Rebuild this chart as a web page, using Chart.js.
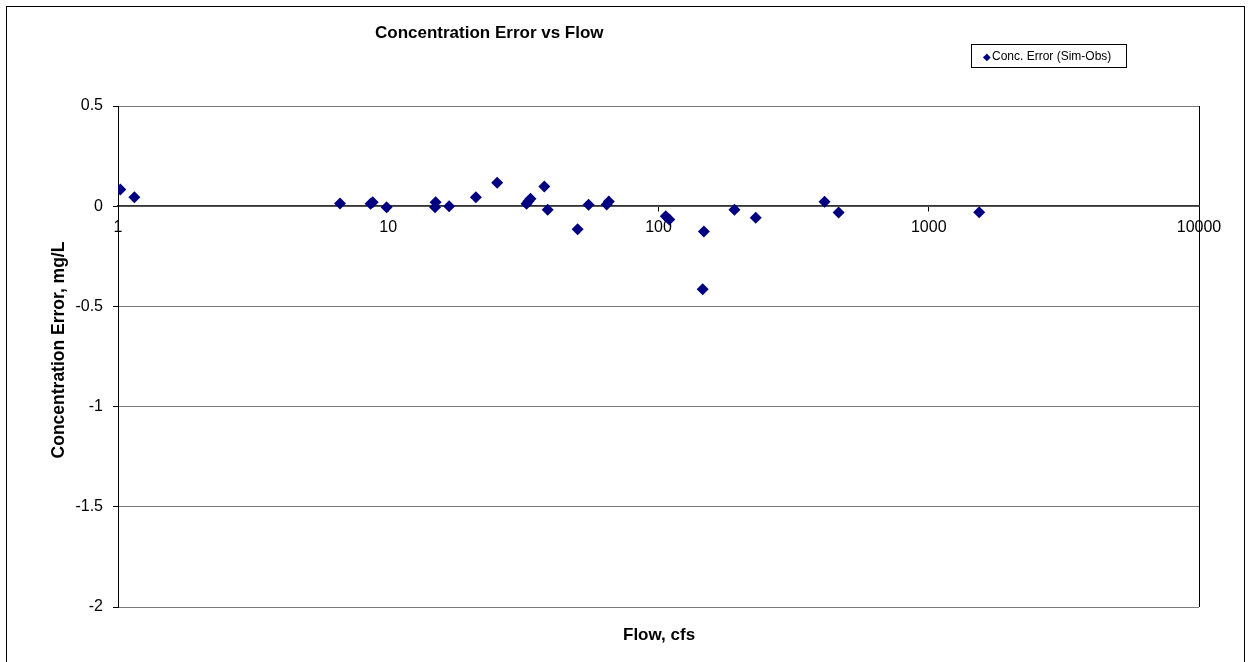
<!DOCTYPE html>
<html>
<head>
<meta charset="utf-8">
<script src="https://cdn.jsdelivr.net/npm/chart.js@4.4.0/dist/chart.umd.min.js"></script>
<style>
  html, body { margin: 0; padding: 0; background: #fff; overflow: hidden; }
  body { width: 1251px; height: 662px; position: relative; font-family: Arial, "Liberation Sans", sans-serif; }
  #frame { position: absolute; left: 6px; top: 6px; width: 1237px; height: 700px; border: 1px solid #000; }
  #wrap { position: absolute; left: 0; top: 0; width: 1251px; height: 662px; }
  .title { position: absolute; font-weight: bold; color: #000; white-space: nowrap; line-height: 20px; }
  #yTitle { width: 300px; text-align: center; transform: rotate(-90deg); transform-origin: 50% 50%; }
  #legend { position: absolute; left: 971px; top: 44px; width: 156px; height: 24px; border: 1px solid #000;
            font-size: 12px; line-height: 22px; box-sizing: border-box; padding-left: 11px; white-space: nowrap; }
  #legend span { color: #000080; font-size: 10px; margin-right: 1px; }
</style>
</head>
<body>
<div id="frame"></div>
<div id="wrap"><canvas id="chart" width="1251" height="662"></canvas></div>
<div class="title" style="left:375px; top:23px; font-size:17px;">Concentration Error vs Flow</div>
<div class="title" style="left:623px; top:625px; font-size:17px;">Flow, cfs</div>
<div class="title" id="yTitle" style="left:-92px; top:340px; font-size:17.5px;">Concentration Error, mg/L</div>
<div id="legend"><span>&#9670;</span>Conc. Error (Sim-Obs)</div>
<script>
// Flow (cfs) and concentration error (mg/L)
const flows = [1.02, 1.15, 6.63, 8.6, 8.76, 9.86, 14.97, 14.9, 16.8, 21.1, 25.3, 32.5, 33.0, 33.6,
               37.8, 38.9, 50.2, 55.1, 64.3, 65.5, 106.4, 109.6, 147.2, 145.7, 191, 229, 411.7, 464, 1537];
const concErrors = [0.083, 0.045, 0.013, 0.012, 0.02, -0.005, 0.02, -0.005, 0.0, 0.045, 0.117, 0.012, 0.025, 0.037,
                    0.098, -0.018, -0.115, 0.007, 0.008, 0.023, -0.05, -0.066, -0.126, -0.414, -0.018, -0.058, 0.022, -0.031, -0.03];
const xTicks = [1, 10, 100, 1000, 10000];
const yTicks = [0.5, 0, -0.5, -1, -1.5, -2];

const points = flows.map((f, i) => ({ x: f, y: concErrors[i] }));
const font = "Arial, 'Liberation Sans', sans-serif";

const ctx = document.getElementById('chart').getContext('2d');
new Chart(ctx, {
    type: 'scatter',
    data: {
        datasets: [{
            label: 'Conc. Error (Sim-Obs)',
            data: points,
            pointStyle: 'rectRot',
            pointRadius: 6,
            backgroundColor: '#000080',
            borderColor: '#000080',
            borderWidth: 0
        }]
    },
    options: {
        responsive: false,
        animation: false,
        layout: { padding: { left: 0, top: 106, right: 52, bottom: 55 } },
        plugins: {
            legend: { display: false },
            tooltip: { enabled: false }
        },
        scales: {
            x: {
                type: 'logarithmic',
                position: { y: 0 },
                min: 1,
                max: 10000,
                afterBuildTicks: s => { s.ticks = xTicks.map(v => ({ value: v })); },
                ticks: {
                    color: '#000',
                    font: { family: font, size: 16 },
                    padding: 7,
                    maxRotation: 0,
                    autoSkip: false,
                    callback: v => String(v)
                },
                grid: {
                    drawOnChartArea: true,
                    color: c => (c.tick && c.tick.value === 10000) ? '#000' : 'rgba(0,0,0,0)',
                    tickColor: '#000',
                    tickLength: 5,
                    lineWidth: 1
                },
                border: { display: true, color: '#333', width: 1.5 }
            },
            y: {
                min: -2,
                max: 0.5,
                afterBuildTicks: s => { s.ticks = yTicks.map(v => ({ value: v })); },
                afterFit: s => { s.width = 118; },
                ticks: {
                    color: '#000',
                    font: { family: font, size: 16 },
                    padding: 10,
                    callback: v => String(v)
                },
                grid: {
                    color: '#7a7a7a',
                    tickColor: '#000',
                    tickLength: 5,
                    lineWidth: 1
                },
                border: { display: true, color: '#000', width: 1 }
            }
        }
    }
});
</script>
</body>
</html>
